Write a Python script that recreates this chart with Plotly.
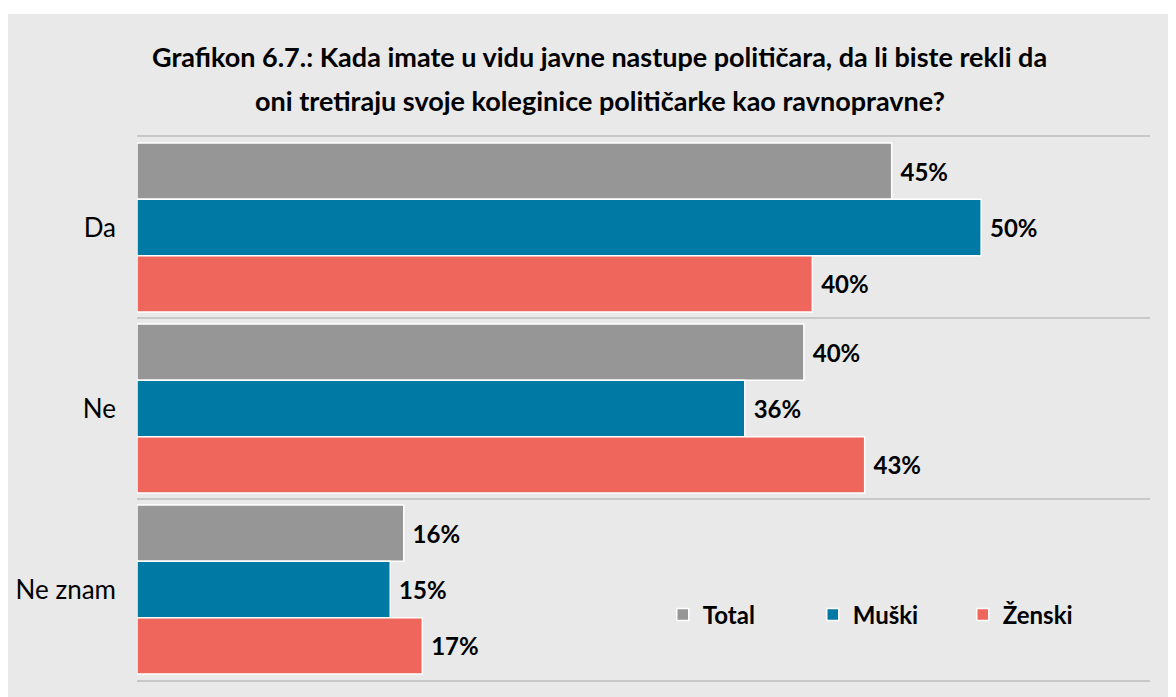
import plotly.graph_objects as go

# answers (category axis, top to bottom)
answers = ["Da", "Ne", "Ne znam"]

# shares in %
total = [44.7, 39.5, 15.8]
muski = [50.0, 36.0, 15.0]
zenski = [40.0, 43.1, 16.9]

series = [
    ("Total", total, "#969696"),
    ("Muški", muski, "#0079a5"),
    ("Ženski", zenski, "#ee665c"),
]

title_lines = [
    "Grafikon 6.7.: Kada imate u vidu javne nastupe političara, da li biste rekli da",
    "oni tretiraju svoje koleginice političarke kao ravnopravne?",
]

FONT = "Lato"

fig = go.Figure()
for name, vals, color in series:
    fig.add_trace(
        go.Bar(
            y=answers,
            x=vals,
            name=name,
            orientation="h",
            marker=dict(color=color, line=dict(color="white", width=1.5)),
            texttemplate=" %{x:.0f}%",
            textposition="outside",
            textfont=dict(family=FONT, size=24, color="black", weight="bold"),
            cliponaxis=False,
        )
    )

# thin white strip along the top edge
fig.add_shape(
    type="rect",
    xref="paper",
    yref="paper",
    x0=-0.2,
    x1=1.1,
    y0=1.2265,
    y1=1.3,
    fillcolor="white",
    line_width=0,
    layer="below",
)

# two title lines as separate annotations (wider line spacing than plotly's title)
for text, ypos in zip(title_lines, [1.149, 1.068]):
    fig.add_annotation(
        text=text,
        xref="paper",
        yref="paper",
        x=0.457,
        y=ypos,
        xanchor="center",
        yanchor="middle",
        showarrow=False,
        font=dict(family=FONT, size=27, color="black", weight="bold"),
    )

fig.update_layout(
    width=1168,
    height=689,
    margin=dict(l=129, r=26, t=129, b=17, autoexpand=False),
    paper_bgcolor="#e9e9e9",
    plot_bgcolor="#e9e9e9",
    barmode="group",
    bargap=0.066,
    bargroupgap=0,
    font=dict(family=FONT, size=20, color="black"),
    xaxis=dict(
        range=[0, 60],
        showticklabels=False,
        showgrid=False,
        zeroline=False,
        showline=True,
        mirror=True,
        linecolor="#c8c8c8",
        linewidth=2,
    ),
    yaxis=dict(
        autorange="reversed",
        tickson="boundaries",
        showgrid=True,
        gridcolor="#c8c8c8",
        gridwidth=2,
        ticks="",
        ticklabelstandoff=20,
        tickfont=dict(family=FONT, size=26, color="black"),
    ),
    legend=dict(
        orientation="h",
        x=0.519,
        y=0.12,
        xanchor="left",
        yanchor="middle",
        bgcolor="rgba(0,0,0,0)",
        font=dict(family=FONT, size=24, color="black", weight="bold"),
        entrywidth=105,
        traceorder="normal",
    ),
)

fig.write_html("out.html")
